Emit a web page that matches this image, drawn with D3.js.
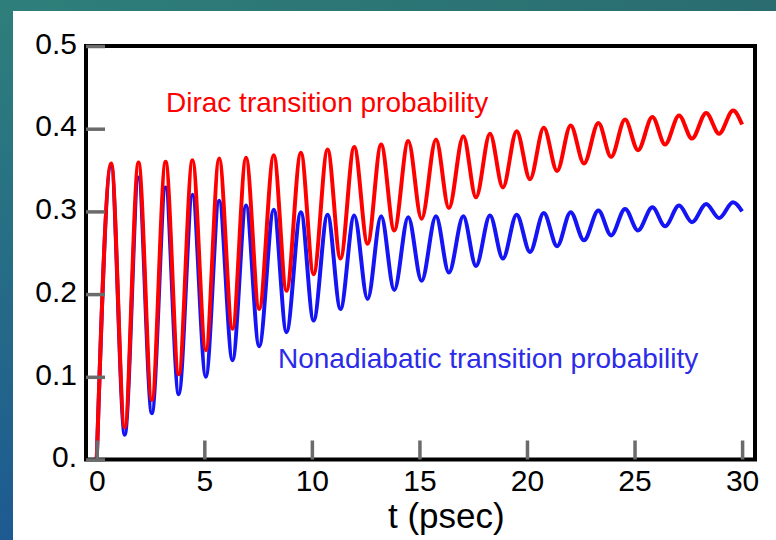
<!DOCTYPE html>
<html>
<head>
<meta charset="utf-8">
<script src="https://cdn.jsdelivr.net/npm/d3@7"></script>
<style>
  body { margin: 0; background: #fff; }
  svg { display: block; }
</style>
</head>
<body>
<div id="chart"></div>
<script>
// extrema (t in psec)
const peakTimes = [0.67, 1.94, 3.20, 4.45, 5.69, 6.94, 8.23, 9.49, 10.73, 11.97, 13.22, 14.48,
  15.77, 17.04, 18.28, 19.52, 20.78, 22.03, 23.32, 24.56, 25.83, 27.07, 28.33, 29.58];
const troughTimes = [1.30, 2.56, 3.81, 5.07, 6.31, 7.55, 8.82, 10.08, 11.33, 12.59, 13.83, 15.10,
  16.37, 17.63, 18.88, 20.14, 21.40, 22.65, 23.91, 25.16, 26.42, 27.67, 28.93];

const diracPeaks = [0.358, 0.359, 0.360, 0.362, 0.364, 0.365, 0.368, 0.371, 0.375, 0.378, 0.381, 0.385,
  0.387, 0.391, 0.394, 0.397, 0.401, 0.404, 0.407, 0.411, 0.414, 0.416, 0.419, 0.422];
const diracTroughs = [0.039, 0.072, 0.103, 0.132, 0.158, 0.182, 0.204, 0.224, 0.243, 0.261, 0.277, 0.291,
  0.304, 0.317, 0.329, 0.339, 0.349, 0.358, 0.366, 0.374, 0.381, 0.388, 0.394];

const nonadPeaks = [0.355, 0.341, 0.329, 0.320, 0.313, 0.307, 0.302, 0.299, 0.296, 0.295, 0.294, 0.293,
  0.294, 0.294, 0.295, 0.296, 0.298, 0.299, 0.301, 0.303, 0.305, 0.307, 0.309, 0.311];
const nonadTroughs = [0.030, 0.056, 0.079, 0.100, 0.120, 0.137, 0.154, 0.168, 0.182, 0.194, 0.205, 0.216,
  0.226, 0.234, 0.243, 0.251, 0.258, 0.265, 0.271, 0.277, 0.282, 0.287, 0.292];

const startPoint = { t: 0, dirac: 0, nonad: 0 };
const endPoint = { t: 30, dirac: 0.405, nonad: 0.300 };

const xTicks = [0, 5, 10, 15, 20, 25, 30];
const yTicks = [0, 0.1, 0.2, 0.3, 0.4, 0.5];
const yTickLabels = ["0.", "0.1", "0.2", "0.3", "0.4", "0.5"];

const FONT = "'Liberation Sans', Arial, Helvetica, sans-serif";
const COLORS = {
  dirac: "#ff0000",
  nonad: "#1414f5",
  nonadText: "#2b2be8",
  tick: "#6b6b6b",
};

function buildSeries(peaks, troughs, key) {
  const pts = [{ t: startPoint.t, p: startPoint[key] }];
  peakTimes.forEach((t, k) => {
    pts.push({ t: t, p: peaks[k] });
    if (k < troughTimes.length) pts.push({ t: troughTimes[k], p: troughs[k] });
  });
  pts.push({ t: endPoint.t, p: endPoint[key] });
  return pts;
}

const width = 776;
const height = 540;
const plotLeft = 86, plotRight = 755, plotTop = 46, plotBottom = 459.5;

const svg = d3.select("#chart")
  .append("svg")
  .attr("width", width)
  .attr("height", height);

// slide background
const defs = svg.append("defs");
const bgGrad = defs.append("linearGradient")
  .attr("id", "bg").attr("x1", 0).attr("y1", 0).attr("x2", 0).attr("y2", 1);
bgGrad.append("stop").attr("offset", "0%").attr("stop-color", "#2e7f7b");
bgGrad.append("stop").attr("offset", "100%").attr("stop-color", "#1d5a92");
const topGrad = defs.append("linearGradient")
  .attr("id", "bgTop").attr("x1", 0).attr("y1", 0).attr("x2", 1).attr("y2", 0);
topGrad.append("stop").attr("offset", "0%").attr("stop-color", "#2e7f7b");
topGrad.append("stop").attr("offset", "100%").attr("stop-color", "#2a6c70");

svg.append("rect").attr("width", width).attr("height", height).attr("fill", "url(#bg)");
svg.append("rect").attr("width", width).attr("height", 11).attr("fill", "url(#bgTop)");
svg.append("rect")
  .attr("x", 13).attr("y", 11)
  .attr("width", width - 13).attr("height", height - 11)
  .attr("fill", "#fff");

const x = d3.scaleLinear().domain([-0.5, 30.6]).range([plotLeft, plotRight]);
const y = d3.scaleLinear().domain([0, 0.5]).range([plotBottom, plotTop]);

const line = d3.line()
  .x((d) => x(d.t))
  .y((d) => y(d.p))
  .curve(d3.curveMonotoneX);

svg.append("path")
  .datum(buildSeries(nonadPeaks, nonadTroughs, "nonad"))
  .attr("d", line)
  .style("fill", "none")
  .style("stroke", COLORS.nonad)
  .style("stroke-width", 4)
  .style("stroke-linejoin", "round");

svg.append("path")
  .datum(buildSeries(diracPeaks, diracTroughs, "dirac"))
  .attr("d", line)
  .style("fill", "none")
  .style("stroke", COLORS.dirac)
  .style("stroke-width", 4)
  .style("stroke-linejoin", "round");

// frame
svg.append("rect")
  .attr("x", plotLeft).attr("y", plotTop)
  .attr("width", plotRight - plotLeft).attr("height", plotBottom - plotTop)
  .style("fill", "none")
  .style("stroke", "#000")
  .style("stroke-width", 4);

const xAxis = svg.append("g")
  .attr("transform", `translate(0,${plotBottom})`)
  .call(d3.axisBottom(x).tickValues(xTicks).tickSize(-19).tickPadding(10.5).tickFormat(d3.format("d")));

const yAxis = svg.append("g")
  .attr("transform", `translate(${plotLeft},0)`)
  .call(d3.axisLeft(y).tickValues(yTicks).tickSize(-19).tickPadding(9)
    .tickFormat((d, i) => yTickLabels[i]));

[xAxis, yAxis].forEach((ax) => {
  ax.select(".domain").remove();
  ax.selectAll(".tick line")
    .attr("stroke", COLORS.tick)
    .attr("stroke-width", 3.5);
  ax.selectAll(".tick text")
    .attr("fill", "#000")
    .style("font-family", FONT)
    .style("font-size", "30px");
});
yAxis.selectAll(".tick text").attr("dy", "0.24em");

svg.append("text")
  .attr("x", 388)
  .attr("y", 528)
  .text("t (psec)")
  .style("font-family", FONT)
  .style("font-size", "35px")
  .style("fill", "#000");

svg.append("text")
  .attr("x", 166)
  .attr("y", 112)
  .text("Dirac transition probability")
  .style("font-family", FONT)
  .style("font-size", "28px")
  .style("fill", COLORS.dirac);

svg.append("text")
  .attr("x", 278)
  .attr("y", 368)
  .text("Nonadiabatic transition probability")
  .style("font-family", FONT)
  .style("font-size", "28px")
  .style("fill", COLORS.nonadText);
</script>
</body>
</html>
